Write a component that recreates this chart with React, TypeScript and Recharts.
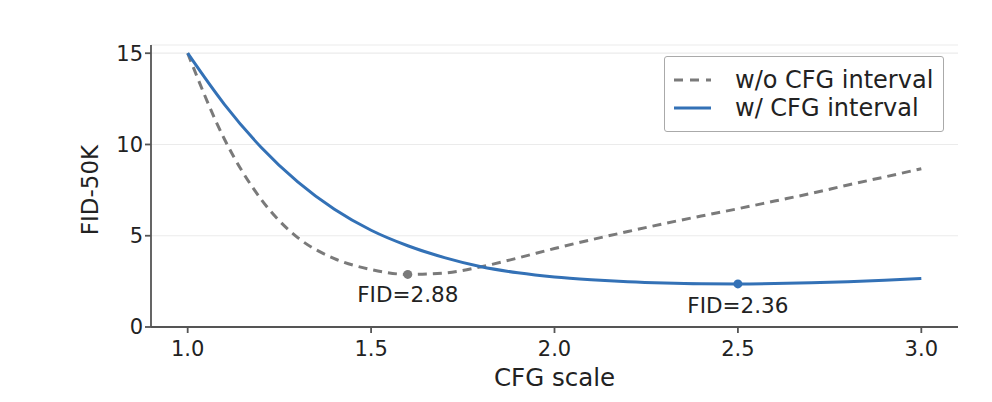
import React from "react"
import {
  LineChart,
  Line,
  XAxis,
  YAxis,
  CartesianGrid,
  Legend,
  ReferenceDot,
} from "recharts"

// CFG scale sampled every 0.1
const cfgScale = [
  1.0, 1.1, 1.2, 1.3, 1.4, 1.5, 1.6, 1.7, 1.8, 1.9, 2.0,
  2.1, 2.2, 2.3, 2.4, 2.5, 2.6, 2.7, 2.8, 2.9, 3.0,
]
const fidWithoutInterval = [
  15.0, 10.3, 7.0, 4.9, 3.75, 3.15, 2.88, 2.96, 3.3, 3.78, 4.3,
  4.78, 5.23, 5.67, 6.08, 6.48, 6.9, 7.32, 7.78, 8.22, 8.67,
]
const fidWithInterval = [
  15.0, 12.2, 9.85, 7.95, 6.45, 5.3, 4.45, 3.8, 3.3, 2.97, 2.74,
  2.59, 2.48, 2.41, 2.37, 2.36, 2.38, 2.42, 2.48, 2.56, 2.66,
]
const xTicks = [1.0, 1.5, 2.0, 2.5, 3.0]
const yTicks = [0, 5, 10, 15]
const bestWithout = { x: 1.6, y: 2.88, label: "FID=2.88" }
const bestWith = { x: 2.5, y: 2.36, label: "FID=2.36" }

const GRAY = "#7a7a7a"
const BLUE = "#3371b6"
const FONT = "DejaVu Sans, sans-serif"
const TEXT = "#222"
const AXIS = "#555"

const data = cfgScale.map((s, i) => ({
  scale: s,
  without: fidWithoutInterval[i],
  with: fidWithInterval[i],
}))

function LegendBox() {
  const rows = [
    { name: "w/o CFG interval", color: GRAY, dash: "9 7" },
    { name: "w/ CFG interval", color: BLUE, dash: undefined },
  ]
  return (
    <div
      style={{
        border: "1.5px solid #aaa",
        borderRadius: 3,
        background: "#fff",
        padding: "9px 10px 9px 8px",
        fontFamily: FONT,
        fontSize: 24,
        color: TEXT,
        lineHeight: "28px",
      }}
    >
      {rows.map((r) => (
        <div key={r.name} style={{ display: "flex", alignItems: "center" }}>
          <svg width={46} height={10} style={{ marginRight: 16 }}>
            <line
              x1={1}
              y1={5}
              x2={38}
              y2={5}
              stroke={r.color}
              strokeWidth={3}
              strokeDasharray={r.dash}
            />
          </svg>
          <span>{r.name}</span>
        </div>
      ))}
    </div>
  )
}

export default function App() {
  return (
    <div style={{ position: "absolute", left: 0, top: 0, background: "#fff" }}>
      <LineChart
        width={992}
        height={402}
        data={data}
        margin={{ top: 45, right: 34, left: 80, bottom: 0 }}
      >
        <CartesianGrid vertical={false} stroke="#ebebeb" strokeWidth={1.2} />
        <XAxis
          type="number"
          dataKey="scale"
          domain={[0.9, 3.1]}
          ticks={xTicks}
          tickFormatter={(v: number) => v.toFixed(1)}
          height={75}
          stroke={AXIS}
          strokeWidth={1.8}
          tickSize={6}
          tick={{ fill: TEXT, fontSize: 21, fontFamily: FONT, dy: 6 }}
          label={{
            value: "CFG scale",
            position: "insideBottom",
            offset: 16,
            fill: TEXT,
            fontSize: 24.5,
            fontFamily: FONT,
          }}
        />
        <YAxis
          type="number"
          domain={[0, 15.45]}
          ticks={yTicks}
          width={71}
          stroke={AXIS}
          strokeWidth={1.8}
          tickSize={6}
          tick={{ fill: TEXT, fontSize: 21, fontFamily: FONT }}
          label={{
            content: () => (
              <text
                x={90}
                y={190}
                transform="rotate(-90, 90, 190)"
                textAnchor="middle"
                dominantBaseline="central"
                fill={TEXT}
                fontSize={23}
                fontFamily={FONT}
              >
                FID-50K
              </text>
            ),
          }}
        />
        <Legend
          layout="horizontal"
          verticalAlign="middle"
          align="center"
          wrapperStyle={{ top: 56, left: 664, width: "auto" }}
          content={() => <LegendBox />}
        />
        <Line
          type="monotone"
          dataKey="without"
          name="w/o CFG interval"
          stroke={GRAY}
          strokeWidth={3}
          strokeDasharray="9 6"
          dot={false}
          isAnimationActive={false}
        />
        <Line
          type="monotone"
          dataKey="with"
          name="w/ CFG interval"
          stroke={BLUE}
          strokeWidth={3}
          dot={false}
          isAnimationActive={false}
        />
        <ReferenceDot
          x={bestWithout.x}
          y={bestWithout.y}
          r={4.5}
          fill={GRAY}
          stroke="none"
          label={{
            value: bestWithout.label,
            position: "bottom",
            offset: 8,
            fill: TEXT,
            fontSize: 21.5,
            fontFamily: FONT,
          }}
        />
        <ReferenceDot
          x={bestWith.x}
          y={bestWith.y}
          r={4.5}
          fill={BLUE}
          stroke="none"
          label={{
            value: bestWith.label,
            position: "bottom",
            offset: 9,
            fill: TEXT,
            fontSize: 21.5,
            fontFamily: FONT,
          }}
        />
      </LineChart>
    </div>
  )
}
